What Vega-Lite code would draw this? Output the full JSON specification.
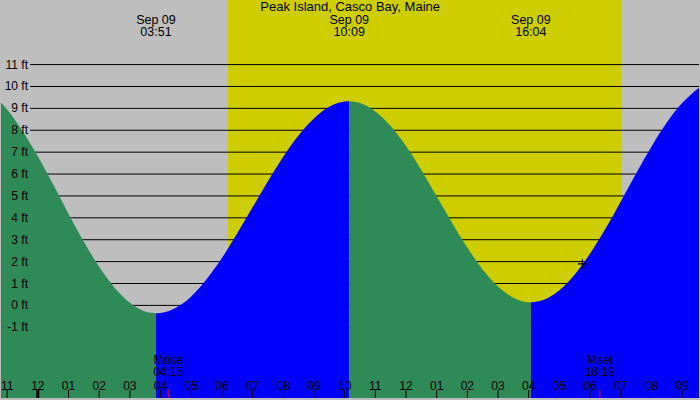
{
  "$schema": "https://vega.github.io/schema/vega-lite/v6.json",
  "width": 700,
  "height": 400,
  "autosize": {"type": "fit", "contains": "padding"},
  "padding": 0,
  "background": "#BEBEBE",
  "config": {
    "view": {"stroke": null, "fill": "#BEBEBE"},
    "axis": {"disable": true},
    "font": "Liberation Sans",
    "text": {"font": "Liberation Sans", "fontSize": 12, "color": "#000000"}
  },
  "datasets": {
    "daylight": [{"sunrise": 6.2, "sunset": 19.02}],
    "grid": [
      {"ft": -1, "label": "-1 ft"}, {"ft": 0, "label": "0 ft"}, {"ft": 1, "label": "1 ft"},
      {"ft": 2, "label": "2 ft"}, {"ft": 3, "label": "3 ft"}, {"ft": 4, "label": "4 ft"},
      {"ft": 5, "label": "5 ft"}, {"ft": 6, "label": "6 ft"}, {"ft": 7, "label": "7 ft"},
      {"ft": 8, "label": "8 ft"}, {"ft": 9, "label": "9 ft"}, {"ft": 10, "label": "10 ft"},
      {"ft": 11, "label": "11 ft"}
    ],
    "hours": [
      {"hour": -1, "label": "11"}, {"hour": 0, "label": "12"}, {"hour": 1, "label": "01"},
      {"hour": 2, "label": "02"}, {"hour": 3, "label": "03"}, {"hour": 4, "label": "04"},
      {"hour": 5, "label": "05"}, {"hour": 6, "label": "06"}, {"hour": 7, "label": "07"},
      {"hour": 8, "label": "08"}, {"hour": 9, "label": "09"}, {"hour": 10, "label": "10"},
      {"hour": 11, "label": "11"}, {"hour": 12, "label": "12"}, {"hour": 13, "label": "01"},
      {"hour": 14, "label": "02"}, {"hour": 15, "label": "03"}, {"hour": 16, "label": "04"},
      {"hour": 17, "label": "05"}, {"hour": 18, "label": "06"}, {"hour": 19, "label": "07"},
      {"hour": 20, "label": "08"}, {"hour": 21, "label": "09"}
    ],
    "tide": [
      {"hour": -1.2, "ft": 9.27, "seg": "s1", "phase": "falling"},
      {"hour": -1.0, "ft": 8.95, "seg": "s1", "phase": "falling"},
      {"hour": -0.5, "ft": 7.97, "seg": "s1", "phase": "falling"},
      {"hour": 0.0, "ft": 6.81, "seg": "s1", "phase": "falling"},
      {"hour": 0.5, "ft": 5.52, "seg": "s1", "phase": "falling"},
      {"hour": 1.0, "ft": 4.19, "seg": "s1", "phase": "falling"},
      {"hour": 1.5, "ft": 2.91, "seg": "s1", "phase": "falling"},
      {"hour": 2.0, "ft": 1.76, "seg": "s1", "phase": "falling"},
      {"hour": 2.5, "ft": 0.81, "seg": "s1", "phase": "falling"},
      {"hour": 3.0, "ft": 0.12, "seg": "s1", "phase": "falling"},
      {"hour": 3.5, "ft": -0.28, "seg": "s1", "phase": "falling"},
      {"hour": 3.85, "ft": -0.36, "seg": "s1", "phase": "falling"},
      {"hour": 3.85, "ft": -0.36, "seg": "s2", "phase": "rising"},
      {"hour": 4.0, "ft": -0.35, "seg": "s2", "phase": "rising"},
      {"hour": 4.5, "ft": -0.11, "seg": "s2", "phase": "rising"},
      {"hour": 5.0, "ft": 0.41, "seg": "s2", "phase": "rising"},
      {"hour": 5.5, "ft": 1.19, "seg": "s2", "phase": "rising"},
      {"hour": 6.0, "ft": 2.16, "seg": "s2", "phase": "rising"},
      {"hour": 6.5, "ft": 3.29, "seg": "s2", "phase": "rising"},
      {"hour": 7.0, "ft": 4.48, "seg": "s2", "phase": "rising"},
      {"hour": 7.5, "ft": 5.67, "seg": "s2", "phase": "rising"},
      {"hour": 8.0, "ft": 6.79, "seg": "s2", "phase": "rising"},
      {"hour": 8.5, "ft": 7.77, "seg": "s2", "phase": "rising"},
      {"hour": 9.0, "ft": 8.54, "seg": "s2", "phase": "rising"},
      {"hour": 9.5, "ft": 9.07, "seg": "s2", "phase": "rising"},
      {"hour": 10.0, "ft": 9.31, "seg": "s2", "phase": "rising"},
      {"hour": 10.15, "ft": 9.32, "seg": "s2", "phase": "rising"},
      {"hour": 10.15, "ft": 9.32, "seg": "s3", "phase": "falling"},
      {"hour": 10.5, "ft": 9.24, "seg": "s3", "phase": "falling"},
      {"hour": 11.0, "ft": 8.86, "seg": "s3", "phase": "falling"},
      {"hour": 11.5, "ft": 8.19, "seg": "s3", "phase": "falling"},
      {"hour": 12.0, "ft": 7.28, "seg": "s3", "phase": "falling"},
      {"hour": 12.5, "ft": 6.19, "seg": "s3", "phase": "falling"},
      {"hour": 13.0, "ft": 4.99, "seg": "s3", "phase": "falling"},
      {"hour": 13.5, "ft": 3.78, "seg": "s3", "phase": "falling"},
      {"hour": 14.0, "ft": 2.64, "seg": "s3", "phase": "falling"},
      {"hour": 14.5, "ft": 1.64, "seg": "s3", "phase": "falling"},
      {"hour": 15.0, "ft": 0.86, "seg": "s3", "phase": "falling"},
      {"hour": 15.5, "ft": 0.35, "seg": "s3", "phase": "falling"},
      {"hour": 16.0, "ft": 0.14, "seg": "s3", "phase": "falling"},
      {"hour": 16.07, "ft": 0.14, "seg": "s3", "phase": "falling"},
      {"hour": 16.07, "ft": 0.14, "seg": "s4", "phase": "rising"},
      {"hour": 16.5, "ft": 0.26, "seg": "s4", "phase": "rising"},
      {"hour": 17.0, "ft": 0.69, "seg": "s4", "phase": "rising"},
      {"hour": 17.5, "ft": 1.41, "seg": "s4", "phase": "rising"},
      {"hour": 18.0, "ft": 2.37, "seg": "s4", "phase": "rising"},
      {"hour": 18.5, "ft": 3.50, "seg": "s4", "phase": "rising"},
      {"hour": 19.0, "ft": 4.75, "seg": "s4", "phase": "rising"},
      {"hour": 19.5, "ft": 6.03, "seg": "s4", "phase": "rising"},
      {"hour": 20.0, "ft": 7.25, "seg": "s4", "phase": "rising"},
      {"hour": 20.5, "ft": 8.35, "seg": "s4", "phase": "rising"},
      {"hour": 21.0, "ft": 9.24, "seg": "s4", "phase": "rising"},
      {"hour": 21.3, "ft": 9.65, "seg": "s4", "phase": "rising"},
      {"hour": 21.55, "ft": 9.94, "seg": "s4", "phase": "rising"}
    ],
    "events": [
      {"hour": 3.85, "label": "Sep 09\n03:51"},
      {"hour": 10.15, "label": "Sep 09\n10:09"},
      {"hour": 16.07, "label": "Sep 09\n16:04"}
    ],
    "moon": [
      {"hour": 4.25, "label": "Mrise\n04:15"},
      {"hour": 18.32, "label": "Mset\n18:19"}
    ],
    "midnight": [{"hour": 0}],
    "now": [{"hour": 17.75, "ft": 1.9}]
  },
  "layer": [
    {
      "data": {"name": "daylight"},
      "mark": {"type": "rect", "color": "#CDCD00"},
      "encoding": {
        "x": {
          "field": "sunrise",
          "type": "quantitative",
          "scale": {"domain": [-1.2, 21.55], "nice": false, "zero": false}
        },
        "x2": {"field": "sunset"}
      }
    },
    {
      "data": {"name": "grid"},
      "mark": {"type": "rule", "color": "#000000", "strokeWidth": 1},
      "encoding": {
        "x": {"datum": -0.25, "type": "quantitative"},
        "x2": {"datum": 21.55},
        "y": {
          "field": "ft",
          "type": "quantitative",
          "scale": {"domain": [-4.23, 13.95], "nice": false, "zero": false}
        }
      }
    },
    {
      "data": {"name": "tide"},
      "mark": {"type": "area", "interpolate": "monotone", "orient": "vertical", "opacity": 1},
      "encoding": {
        "x": {"field": "hour", "type": "quantitative"},
        "y": {"field": "ft", "type": "quantitative", "stack": null},
        "y2": {"datum": -4.23},
        "detail": {"field": "seg", "type": "nominal"},
        "color": {
          "field": "phase",
          "type": "nominal",
          "scale": {"domain": ["falling", "rising"], "range": ["#2E8B57", "#0000FF"]},
          "legend": null
        }
      }
    },
    {
      "data": {"name": "grid"},
      "mark": {"type": "text", "align": "right", "baseline": "middle"},
      "encoding": {
        "x": {"datum": -0.32, "type": "quantitative"},
        "y": {"field": "ft", "type": "quantitative"},
        "text": {"field": "label"}
      }
    },
    {
      "data": {"name": "hours"},
      "mark": {"type": "rule", "color": "#000000", "strokeWidth": 1},
      "encoding": {
        "x": {"field": "hour", "type": "quantitative"},
        "y": {"datum": -3.86},
        "y2": {"datum": -4.23}
      }
    },
    {
      "data": {"name": "hours"},
      "mark": {"type": "text", "align": "center", "baseline": "middle"},
      "encoding": {
        "x": {"field": "hour", "type": "quantitative"},
        "y": {"datum": -3.7},
        "text": {"field": "label"}
      }
    },
    {
      "data": {"name": "moon"},
      "mark": {"type": "rule", "color": "#FF0000", "strokeWidth": 1},
      "encoding": {
        "x": {"field": "hour", "type": "quantitative"},
        "y": {"datum": -3.86},
        "y2": {"datum": -4.23}
      }
    },
    {
      "data": {"name": "midnight"},
      "mark": {"type": "rule", "color": "#000000", "strokeWidth": 3},
      "encoding": {
        "x": {"field": "hour", "type": "quantitative"},
        "y": {"datum": -3.86},
        "y2": {"datum": -4.23}
      }
    },
    {
      "data": {"name": "moon"},
      "mark": {"type": "text", "lineBreak": "\n", "lineHeight": 12, "baseline": "middle", "align": "center"},
      "encoding": {
        "x": {"field": "hour", "type": "quantitative"},
        "y": {"datum": -2.49},
        "text": {"field": "label"}
      }
    },
    {
      "data": {"name": "events"},
      "mark": {"type": "text", "lineBreak": "\n", "lineHeight": 12, "baseline": "middle", "align": "center", "fontSize": 12.5},
      "encoding": {
        "x": {"field": "hour", "type": "quantitative"},
        "y": {"datum": 13.05},
        "text": {"field": "label"}
      }
    },
    {
      "data": {"name": "now"},
      "mark": {"type": "point", "shape": "M-1,0H1M0,-1V1", "filled": false, "stroke": "#000000", "strokeWidth": 1.2, "size": 81, "opacity": 1},
      "encoding": {
        "x": {"field": "hour", "type": "quantitative"},
        "y": {"field": "ft", "type": "quantitative"}
      }
    },
    {
      "data": {"values": [{"title": "Peak Island, Casco Bay, Maine"}]},
      "mark": {"type": "text", "baseline": "middle", "align": "center", "fontSize": 13},
      "encoding": {
        "x": {"datum": 10.18, "type": "quantitative"},
        "y": {"datum": 13.64},
        "text": {"field": "title"}
      }
    }
  ]
}
